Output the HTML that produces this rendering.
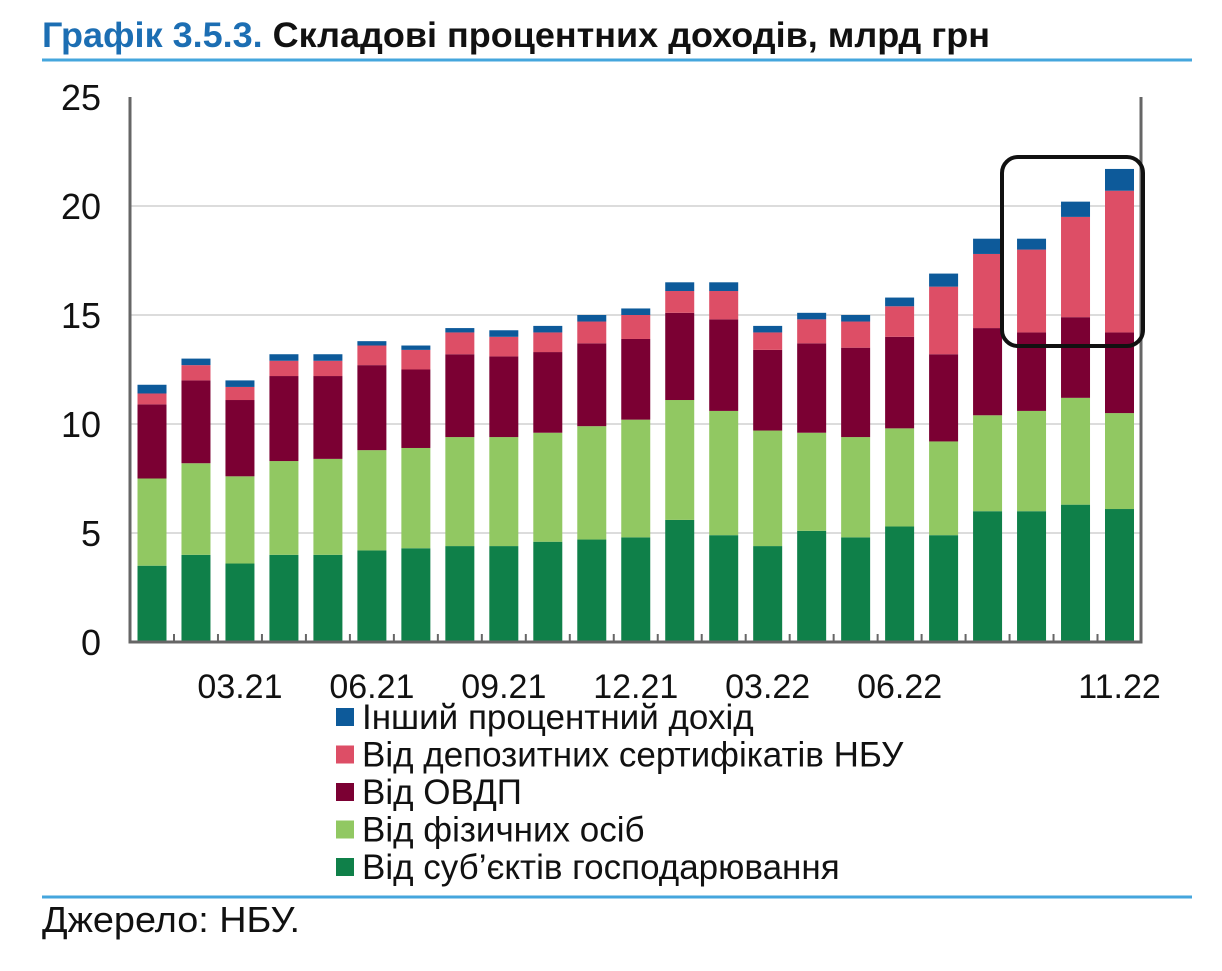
<!DOCTYPE html>
<html><head><meta charset="utf-8">
<style>
body{margin:0;background:#fff;width:1222px;height:966px;overflow:hidden;font-family:"Liberation Sans",sans-serif}
</style></head>
<body>
<svg id="chart" width="1222" height="966" xmlns="http://www.w3.org/2000/svg" font-family="Liberation Sans, sans-serif">
<text x="42" y="47" font-size="35" font-weight="bold" textLength="948" lengthAdjust="spacingAndGlyphs"><tspan fill="#1c6eb3">Графік 3.5.3.</tspan><tspan fill="#111"> Складові процентних доходів, млрд грн</tspan></text>
<line x1="42" y1="60" x2="1192" y2="60" stroke="#45a6dd" stroke-width="3"/>
<line x1="42" y1="897" x2="1192" y2="897" stroke="#45a6dd" stroke-width="3"/>
<text x="42" y="932" font-size="36" fill="#111" textLength="258" lengthAdjust="spacingAndGlyphs">Джерело: НБУ.</text>
<g id="plot"></g>
<rect x="1002" y="157" width="141" height="189" rx="16" fill="none" stroke="#111" stroke-width="4"/>
<g id="legend"></g>
</svg>
<script>
const categories=["01.21","02.21","03.21","04.21","05.21","06.21","07.21","08.21","09.21","10.21","11.21","12.21","01.22","02.22","03.22","04.22","05.22","06.22","07.22","08.22","09.22","10.22","11.22"];
const business=[3.5,4.0,3.6,4.0,4.0,4.2,4.3,4.4,4.4,4.6,4.7,4.8,5.6,4.9,4.4,5.1,4.8,5.3,4.9,6.0,6.0,6.3,6.1];
const individuals=[4.0,4.2,4.0,4.3,4.4,4.6,4.6,5.0,5.0,5.0,5.2,5.4,5.5,5.7,5.3,4.5,4.6,4.5,4.3,4.4,4.6,4.9,4.4];
const ovdp=[3.4,3.8,3.5,3.9,3.8,3.9,3.6,3.8,3.7,3.7,3.8,3.7,4.0,4.2,3.7,4.1,4.1,4.2,4.0,4.0,3.6,3.7,3.7];
const certificates=[0.5,0.7,0.6,0.7,0.7,0.9,0.9,1.0,0.9,0.9,1.0,1.1,1.0,1.3,0.8,1.1,1.2,1.4,3.1,3.4,3.8,4.6,6.5];
const other=[0.4,0.3,0.3,0.3,0.3,0.2,0.2,0.2,0.3,0.3,0.3,0.3,0.4,0.4,0.3,0.3,0.3,0.4,0.6,0.7,0.5,0.7,1.0];
const yTicks=[0,5,10,15,20,25];
const xLabels=["","","03.21","","","06.21","","","09.21","","","12.21","","","03.22","","","06.22","","","","","11.22"];
const seriesNames=["Від суб’єктів господарювання","Від фізичних осіб","Від ОВДП","Від депозитних сертифікатів НБУ","Інший процентний дохід"];
const seriesColors=["#0f8049","#91c862","#7b0033","#dd4e66","#0d5a9a"];
const seriesData=[business,individuals,ovdp,certificates,other];

const NS="http://www.w3.org/2000/svg";
const L=130,R=1141,T=97,B=642,yMax=25;
const y=v=>B-(v/yMax)*(B-T);
const gap=(1119.5-152)/(categories.length-1);
const x=i=>152+i*gap;
const bw=29;
const plot=document.getElementById('plot');
function mk(tag,attrs){const e=document.createElementNS(NS,tag);for(const k in attrs)e.setAttribute(k,attrs[k]);return e;}
yTicks.forEach(t=>{
  if(t>0&&t<yMax){const g=mk('line',{x1:L,x2:R,y1:y(t),y2:y(t),stroke:'#d0d0d0','stroke-width':1.5});
  
  plot.appendChild(g);}
  const tx=mk('text',{x:101,y:y(t)+13,'font-size':36,'text-anchor':'end',fill:'#111'});
  tx.textContent=t;
  
  plot.appendChild(tx);
});
categories.forEach((c,i)=>{
  let base=0;
  seriesData.forEach((s,k)=>{
    const v=s[i];
    const r=mk('rect',{x:x(i)-bw/2,y:y(base+v),width:bw,height:y(base)-y(base+v),fill:seriesColors[k]});
    
    
    plot.appendChild(r);base+=v;
  });
  if(i>0){const tk=mk('line',{x1:x(i)-gap/2,x2:x(i)-gap/2,y1:B,y2:B-8,stroke:'#666','stroke-width':2});
  
  plot.appendChild(tk);}
  if(xLabels[i]){const tx=mk('text',{x:x(i),y:698,'font-size':34,'text-anchor':'middle',fill:'#111'});
  tx.textContent=xLabels[i];
  
  plot.appendChild(tx);}
});
const ax=mk('path',{d:`M${L} ${T} V${B} H${R} V${T}`,fill:'none',stroke:'#666','stroke-width':3});


plot.appendChild(ax);
const leg=document.getElementById('legend');
const rows=[4,3,2,1,0];
rows.forEach((k,j)=>{
  const yy=717+j*37.5;
  const sq=mk('rect',{x:336,y:yy-9,width:18,height:18,fill:seriesColors[k]});
  
  leg.appendChild(sq);
  const tx=mk('text',{x:362,y:yy+12,'font-size':35,fill:'#111'});
  tx.textContent=seriesNames[k];
  
  leg.appendChild(tx);
});
</script>
</body></html>
